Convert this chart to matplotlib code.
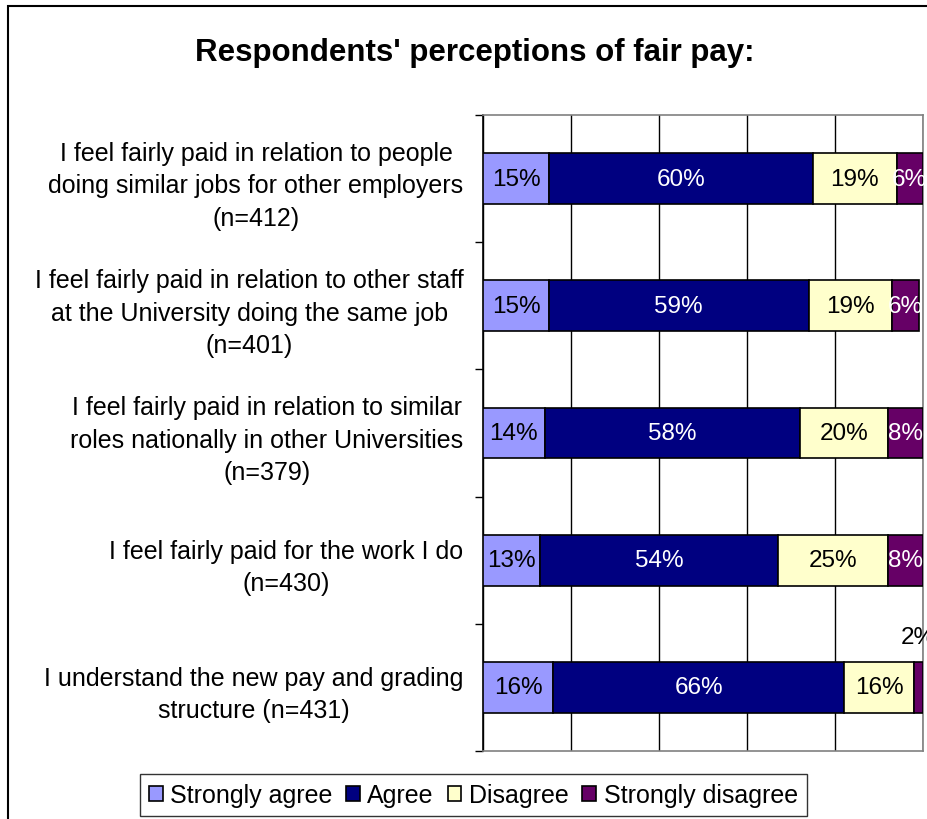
import matplotlib.pyplot as plt
import numpy as np
from matplotlib.patches import Rectangle

plt.rcParams['font.family'] = ['Liberation Sans', 'DejaVu Sans']

statements = [
    "I feel fairly paid in relation to people\ndoing similar jobs for other employers\n(n=412)",
    "I feel fairly paid in relation to other staff\nat the University doing the same job\n(n=401)",
    "I feel fairly paid in relation to similar\nroles nationally in other Universities\n(n=379)",
    "I feel fairly paid for the work I do\n(n=430)",
    "I understand the new pay and grading\nstructure (n=431)",
]
strongly_agree = [15, 15, 14, 13, 16]
agree = [60, 59, 58, 54, 66]
disagree = [19, 19, 20, 25, 16]
strongly_disagree = [6, 6, 8, 8, 2]

series = [
    ("Strongly agree", strongly_agree, "#9999FF", "black"),
    ("Agree", agree, "#000080", "white"),
    ("Disagree", disagree, "#FFFFCC", "black"),
    ("Strongly disagree", strongly_disagree, "#660066", "white"),
]

fig = plt.figure(figsize=(9.28, 8.2), dpi=100)
ax = fig.add_axes([0.5205, 0.0829, 0.4741, 0.7756])

y = np.arange(len(statements))
left = np.zeros(len(statements))
for name, vals, color, tcolor in series:
    vals = np.array(vals, dtype=float)
    ax.barh(y, vals, left=left, height=0.4, color=color, edgecolor="black",
            linewidth=1.2, label=name, zorder=3)
    for yi, (l, v) in enumerate(zip(left, vals)):
        if v >= 5:
            ax.text(l + v / 2, yi, f"{v:.0f}%", ha="center", va="center",
                    fontsize=17.5, color=tcolor, zorder=4)
        else:
            # too thin for an inside label, put it above the bar
            ax.text(l + v / 2, yi - 0.4, f"{v:.0f}%", ha="center", va="center",
                    fontsize=17.5, color="black", zorder=4)
    left += vals

ax.set_xlim(0, 100)
ax.set_ylim(len(statements) - 0.5, -0.5)
ax.set_xticks([0, 20, 40, 60, 80, 100])
ax.tick_params(axis="x", length=0, labelbottom=False)
ax.grid(axis="x", color="black", linewidth=1, zorder=0)

ax.set_yticks(y)
ax.set_yticklabels(statements, fontsize=18, multialignment="center",
                   linespacing=1.45)
ax.tick_params(axis="y", which="major", length=0, pad=14)
ax.set_yticks(np.arange(-0.5, len(statements)), minor=True)
ax.tick_params(axis="y", which="minor", length=6, width=1, direction="out")

ax.spines["left"].set_color("black")
ax.spines["bottom"].set_color("#808080")
ax.spines["top"].set_color("#808080")
ax.spines["right"].set_color("#808080")
for s in ax.spines.values():
    s.set_linewidth(1.2)

fig.text(0.512, 0.935, "Respondents' perceptions of fair pay:", ha="center",
         va="center", fontsize=22.5, fontweight="bold")

leg = fig.legend(loc="center", bbox_to_anchor=(0.51, 0.029), ncol=4,
                 fontsize=18, frameon=True, fancybox=False, edgecolor="black",
                 handlelength=0.55, handleheight=0.55, handletextpad=0.3,
                 columnspacing=0.55, borderpad=0.35, borderaxespad=0)
leg.get_frame().set_linewidth(1)

fig.patches.append(Rectangle((8 / 928, -0.1), 1.2, 1 - 7 / 820 + 0.1,
                             transform=fig.transFigure, fill=False,
                             edgecolor="black", linewidth=1.5))

fig.savefig("out.png", dpi=100)
